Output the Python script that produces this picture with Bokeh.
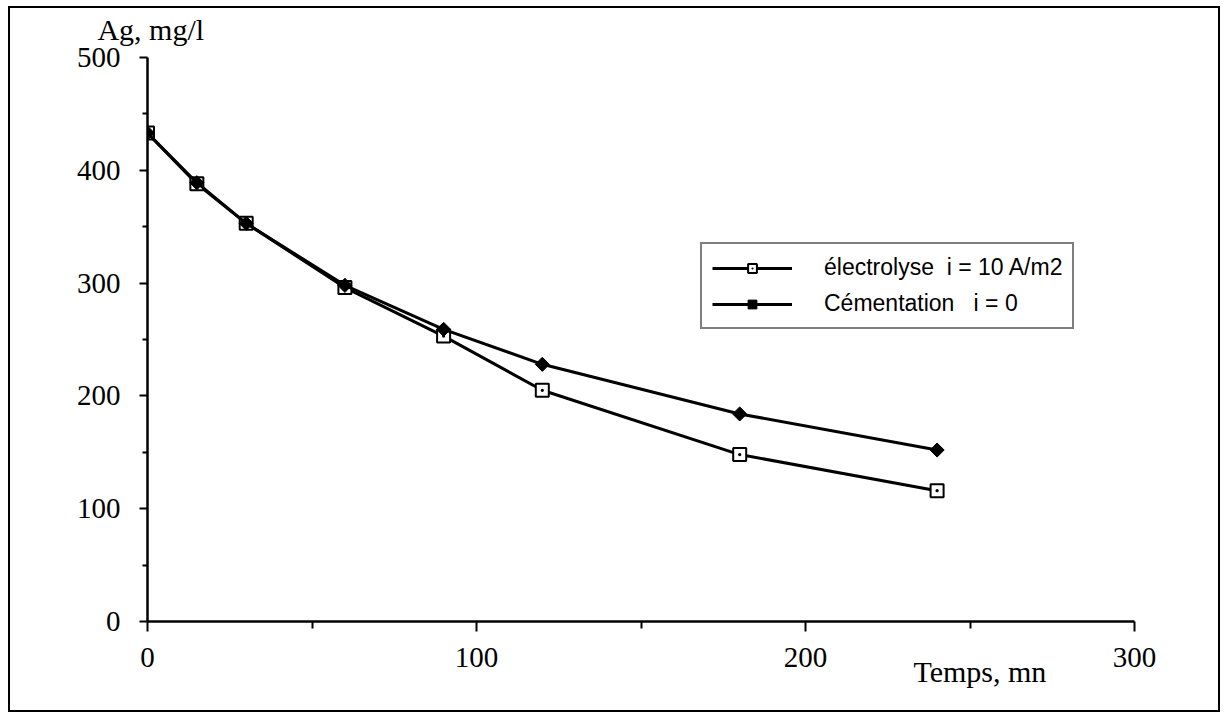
from bokeh.plotting import figure
from bokeh.models import FixedTicker, Legend, LegendItem, LinearAxis, Range1d
from bokeh.embed import file_html
from bokeh.resources import INLINE

# ---- data ----
time_mn = [0, 15, 30, 60, 90, 120, 180, 240]
ag_electrolyse = [433, 388, 353, 296, 253, 205, 148, 116]
ag_cementation = [433, 389, 353, 298, 259, 228, 184, 152]

x_major_ticks = [0, 100, 200, 300]
x_minor_ticks = [50, 150, 250]
y_major_ticks = [0, 100, 200, 300, 400, 500]
y_minor_ticks = [50, 150, 250, 350, 450]

series_labels = ["électrolyse  i = 10 A/m2", "Cémentation   i = 0"]
y_title = "Ag, mg/l"
x_title = "Temps, mn"
y_title_at = 1     # x value above which the y title is centred
x_title_at = 253   # x value under which the x title is centred

SERIF = "Liberation Serif"
SANS = "Liberation Sans"

p = figure(width=1212, height=706,
           x_range=Range1d(0, 300), y_range=Range1d(0, 500),
           output_backend="svg", toolbar_location=None,
           min_border_left=137, min_border_right=88,
           min_border_top=49, min_border_bottom=93)
p.margin = (6, 0, 0, 8)
p.styles = {"border": "2px solid black", "box-sizing": "border-box"}
p.background_fill_color = "white"
p.border_fill_color = "white"
p.outline_line_color = None
p.grid.visible = False
p.title.visible = False


def label_only_axis(tick, text, standoff, size):
    ax = LinearAxis(ticker=FixedTicker(ticks=[tick], minor_ticks=[]),
                    major_label_overrides={tick: text})
    ax.axis_line_color = None
    ax.major_tick_line_color = None
    ax.minor_tick_line_color = None
    ax.major_tick_out = 0
    ax.minor_tick_out = 0
    ax.major_tick_in = 0
    ax.minor_tick_in = 0
    ax.major_label_standoff = standoff
    ax.major_label_text_font = SERIF
    ax.major_label_text_font_size = size
    ax.major_label_text_color = "black"
    return ax


# axes
p.xaxis.ticker = FixedTicker(ticks=x_major_ticks, minor_ticks=x_minor_ticks)
p.yaxis.ticker = FixedTicker(ticks=y_major_ticks, minor_ticks=y_minor_ticks)
for ax in (p.xaxis, p.yaxis):
    ax.axis_line_width = 2.5
    ax.axis_line_color = "black"
    ax.major_tick_line_width = 2
    ax.minor_tick_line_width = 2
    ax.major_tick_line_color = "black"
    ax.minor_tick_line_color = "black"
    ax.major_tick_in = 0
    ax.minor_tick_in = 0
    ax.major_label_text_font = SERIF
    ax.major_label_text_font_size = "29px"
    ax.major_label_text_color = "black"
p.xaxis.major_tick_out = 10
p.xaxis.minor_tick_out = 7
p.xaxis.major_label_standoff = 16
p.yaxis.major_tick_out = 8
p.yaxis.minor_tick_out = 5
p.yaxis.major_label_standoff = 19

# axis titles: label-only axes (y title above the frame, x title beside tick labels)
p.add_layout(label_only_axis(y_title_at, y_title, 12, "30px"), "above")
p.add_layout(label_only_axis(x_title_at, x_title, -15, "30px"), "below")

# series
l_el = p.line(time_mn, ag_electrolyse, line_width=3, line_color="black")
s_el = p.scatter(time_mn, ag_electrolyse, marker="square_dot", size=13,
                 fill_color="white", line_color="black", line_width=2)
l_ce = p.line(time_mn, ag_cementation, line_width=3, line_color="black")
s_ce = p.scatter(time_mn, ag_cementation, marker="square", angle=0.785, size=10,
                 fill_color="black", line_color="black", line_width=1)

legend = Legend(items=[
    LegendItem(label=series_labels[0], renderers=[l_el, s_el]),
    LegendItem(label=series_labels[1], renderers=[l_ce, s_ce]),
], location=(553, 292))
legend.border_line_color = "black"
legend.border_line_width = 2
legend.background_fill_color = "white"
legend.background_fill_alpha = 1
legend.label_text_font = SANS
legend.label_text_font_size = "23px"
legend.label_text_color = "black"
legend.glyph_width = 80
legend.glyph_height = 22
legend.label_height = 22
legend.label_standoff = 32
legend.spacing = 9
legend.padding = 10
legend.margin = 0
p.add_layout(legend, "center")

open("out.html", "w").write(file_html(p, INLINE))
